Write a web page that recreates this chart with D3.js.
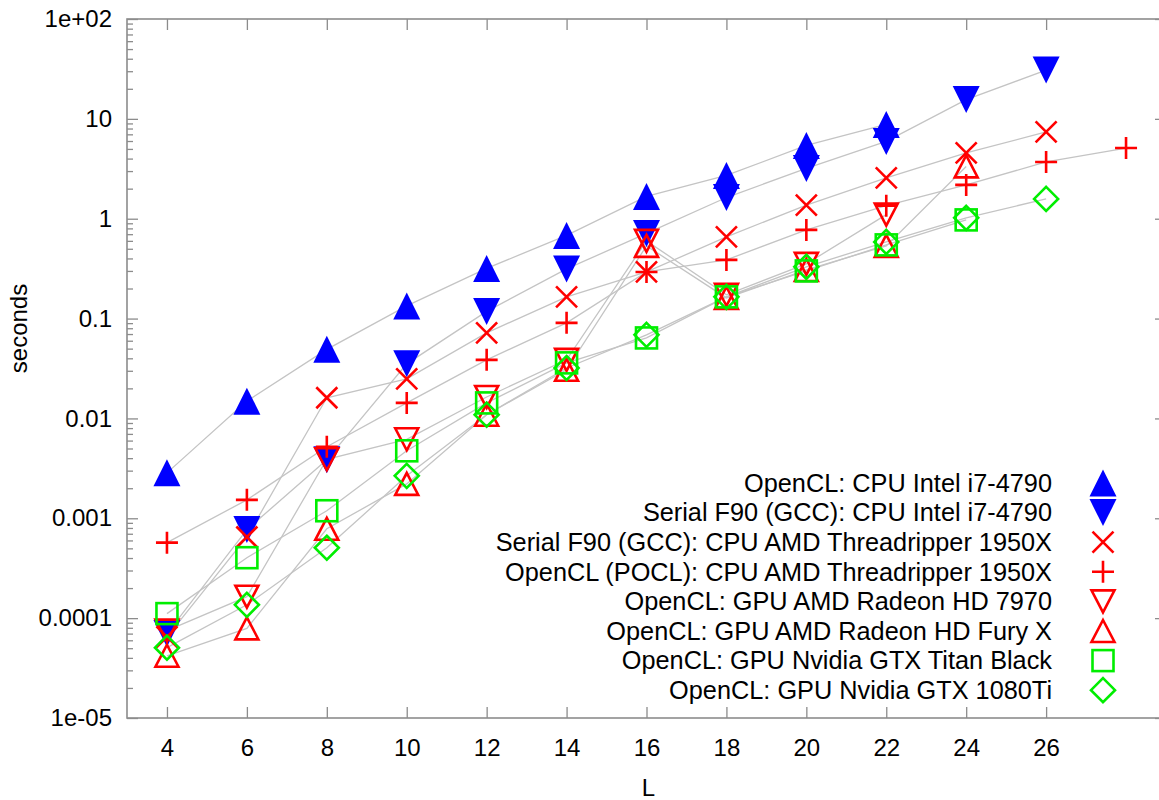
<!DOCTYPE html>
<html>
<head>
<meta charset="utf-8">
<script src="https://cdn.jsdelivr.net/npm/d3@7"></script>
<style>
  body { margin: 0; background: #ffffff; }
  svg text { font-family: "Liberation Sans", Arial, sans-serif; fill: #000; }
</style>
</head>
<body>
<svg id="chart" width="1159" height="800"></svg>
<script>
// Run time (seconds) versus lattice size L, log scale
const seriesNames = [
  "OpenCL: CPU Intel i7-4790",
  "Serial F90 (GCC): CPU Intel i7-4790",
  "Serial F90 (GCC): CPU AMD Threadripper 1950X",
  "OpenCL (POCL): CPU AMD Threadripper 1950X",
  "OpenCL: GPU AMD Radeon HD 7970",
  "OpenCL: GPU AMD Radeon HD Fury X",
  "OpenCL: GPU Nvidia GTX Titan Black",
  "OpenCL: GPU Nvidia GTX 1080Ti"
];

const L_openclI7  = [4, 6, 8, 10, 12, 14, 16, 18, 20, 22];
const t_openclI7  = [0.00285, 0.0149, 0.0492, 0.134, 0.318, 0.681, 1.67, 2.71, 5.42, 8.79];

const L_serialI7  = [4, 6, 8, 10, 12, 14, 16, 18, 20, 22, 24, 26];
const t_serialI7  = [0.00007, 0.00077, 0.00385, 0.0352, 0.118, 0.314, 0.713, 1.63, 3.19, 5.94, 15.6, 30.8];

const L_serialTR  = [4, 6, 8, 10, 12, 14, 16, 18, 20, 22, 24, 26];
const t_serialTR  = [0.000065, 0.00065, 0.0161, 0.0249, 0.072, 0.165, 0.293, 0.658, 1.37, 2.56, 4.56, 7.4];

const L_poclTR    = [4, 6, 8, 10, 12, 14, 16, 18, 20, 22, 24, 26, 28];
const t_poclTR    = [0.00057, 0.00153, 0.0052, 0.0143, 0.0386, 0.0906, 0.293, 0.387, 0.773, 1.35, 2.18, 3.7, 5.1];

const L_hd7970    = [4, 6, 8, 10, 12, 14, 16, 18, 20, 22];
const t_hd7970    = [0.000075, 0.000164, 0.0039, 0.00618, 0.0164, 0.0386, 0.60, 0.173, 0.353, 1.10];

const L_furyX     = [4, 6, 8, 10, 12, 14, 16, 18, 20, 22, 24];
const t_furyX     = [0.000042, 0.000079, 0.000785, 0.00221, 0.0109, 0.0307, 0.535, 0.161, 0.307, 0.535, 3.34];

const L_titan     = [4, 6, 8, 10, 12, 14, 16, 18, 20, 22, 24];
const t_titan     = [0.000111, 0.000403, 0.00119, 0.00474, 0.0143, 0.036, 0.064, 0.165, 0.30, 0.547, 0.973];

const L_gtx1080   = [4, 6, 8, 10, 12, 14, 16, 18, 20, 22, 24, 26];
const t_gtx1080   = [0.0000506, 0.000136, 0.000507, 0.00266, 0.0109, 0.032, 0.0687, 0.165, 0.33, 0.586, 1.02, 1.58];

const xTicks = [4, 6, 8, 10, 12, 14, 16, 18, 20, 22, 24, 26];
const yTicks = [1e-5, 1e-4, 1e-3, 1e-2, 1e-1, 1, 10, 100];
const yTickLabels = ["1e-05", "0.0001", "0.001", "0.01", "0.1", "1", "10", "1e+02"];

const markers = ["triUpFilled", "triDownFilled", "cross", "plus", "triDown", "triUp", "square", "diamond"];
const colors  = ["#0000ff", "#0000ff", "#ff0000", "#ff0000", "#ff0000", "#ff0000", "#00ee00", "#00ee00"];

const series = [
  [L_openclI7, t_openclI7], [L_serialI7, t_serialI7], [L_serialTR, t_serialTR], [L_poclTR, t_poclTR],
  [L_hd7970, t_hd7970], [L_furyX, t_furyX], [L_titan, t_titan], [L_gtx1080, t_gtx1080]
].map((s, i) => ({
  name: seriesNames[i], marker: markers[i], color: colors[i],
  points: s[0].map((L, j) => ({ L, t: s[1][j] }))
}));

const svg = d3.select("#chart");
const plotLeft = 127, plotRight = 1166, plotTop = 19, plotBottom = 718;

const x = d3.scaleLinear().domain([3, 29]).range([plotLeft, plotRight]);
const y = d3.scaleLog().domain([1e-5, 100]).range([plotBottom, plotTop]);

const frameColor = "#8c8c8c";

// minor log ticks
const minor = [];
for (let e = -5; e < 2; e++) for (let k = 2; k <= 9; k++) minor.push(k * Math.pow(10, e));

function styleAxis(g) {
  g.select(".domain").remove();
  g.selectAll(".tick line").attr("stroke", frameColor).attr("stroke-width", 1.3);
  g.selectAll(".tick text").style("font-size", "24px").attr("fill", "#000");
}

svg.append("g").attr("transform", `translate(${plotLeft},0)`)
  .call(d3.axisLeft(y).tickValues(yTicks).tickSize(-11).tickPadding(15)
    .tickFormat((d, i) => yTickLabels[i]))
  .call(styleAxis);
svg.append("g").attr("transform", `translate(${plotLeft},0)`)
  .call(d3.axisLeft(y).tickValues(minor).tickSize(-6).tickFormat(""))
  .call(styleAxis);
svg.append("g").attr("transform", `translate(${plotRight},0)`)
  .call(d3.axisRight(y).tickValues(yTicks).tickSize(-11).tickFormat(""))
  .call(styleAxis);
svg.append("g").attr("transform", `translate(${plotRight},0)`)
  .call(d3.axisRight(y).tickValues(minor).tickSize(-6).tickFormat(""))
  .call(styleAxis);

svg.append("g").attr("transform", `translate(0,${plotBottom})`)
  .call(d3.axisBottom(x).tickValues(xTicks).tickSize(-11).tickPadding(21).tickFormat(d3.format("d")))
  .call(styleAxis);
svg.append("g").attr("transform", `translate(0,${plotTop})`)
  .call(d3.axisTop(x).tickValues(xTicks).tickSize(-11).tickFormat(""))
  .call(styleAxis);

svg.append("rect")
  .attr("x", plotLeft).attr("y", plotTop).attr("width", plotRight - plotLeft).attr("height", plotBottom - plotTop)
  .attr("fill", "none").attr("stroke", frameColor).attr("stroke-width", 1.6);

// axis titles
svg.append("text").attr("x", (plotLeft + plotRight) / 2 + 2).attr("y", 796).attr("text-anchor", "middle")
  .style("font-size", "24px").text("L");
svg.append("text").attr("transform", `translate(27,${(plotTop + plotBottom) / 2 - 40}) rotate(-90)`)
  .attr("text-anchor", "middle").style("font-size", "24px").text("seconds");

// connecting lines
const line = d3.line().x(d => x(d.L)).y(d => y(d.t));
svg.append("g").selectAll("path").data(series).join("path")
  .attr("d", d => line(d.points))
  .attr("fill", "none").attr("stroke", "#c4c4c4").attr("stroke-width", 1.3);

// point symbols
function drawMarker(g, type, color) {
  const sw = 2.6;
  switch (type) {
    case "triUpFilled":
      g.append("path").attr("d", "M0,-13.5L13.5,13.5L-13.5,13.5Z").attr("fill", color);
      break;
    case "triDownFilled":
      g.append("path").attr("d", "M0,13.5L13.5,-13.5L-13.5,-13.5Z").attr("fill", color);
      break;
    case "triUp":
      g.append("path").attr("d", "M0,-11L11.5,11L-11.5,11Z").attr("fill", "none")
        .attr("stroke", color).attr("stroke-width", sw).attr("stroke-linejoin", "miter");
      break;
    case "triDown":
      g.append("path").attr("d", "M0,11L11.5,-11L-11.5,-11Z").attr("fill", "none")
        .attr("stroke", color).attr("stroke-width", sw).attr("stroke-linejoin", "miter");
      break;
    case "cross":
      g.append("path").attr("d", "M-10.5,-10.5L10.5,10.5M-10.5,10.5L10.5,-10.5")
        .attr("stroke", color).attr("stroke-width", sw);
      break;
    case "plus":
      g.append("path").attr("d", "M-11,0L11,0M0,-11L0,11")
        .attr("stroke", color).attr("stroke-width", sw);
      break;
    case "square":
      g.append("rect").attr("x", -10.5).attr("y", -10.5).attr("width", 21).attr("height", 21)
        .attr("fill", "none").attr("stroke", color).attr("stroke-width", sw);
      break;
    case "diamond":
      g.append("path").attr("d", "M0,-12L12,0L0,12L-12,0Z").attr("fill", "none")
        .attr("stroke", color).attr("stroke-width", sw);
      break;
  }
}

series.forEach(s => {
  const g = svg.append("g");
  s.points.forEach(p => {
    const m = g.append("g").attr("transform", `translate(${x(p.L)},${y(p.t)})`);
    drawMarker(m, s.marker, s.color);
  });
});

// legend
const legendY0 = 483, legendDy = 29.6, legendTextX = 1052, legendMarkX = 1103;
series.forEach((s, i) => {
  const yy = legendY0 + i * legendDy;
  svg.append("text").attr("x", legendTextX).attr("y", yy).attr("dy", "0.35em")
    .attr("text-anchor", "end").style("font-size", "25.3px").text(s.name);
  const m = svg.append("g").attr("transform", `translate(${legendMarkX},${yy})`);
  drawMarker(m, s.marker, s.color);
});
</script>
</body>
</html>
